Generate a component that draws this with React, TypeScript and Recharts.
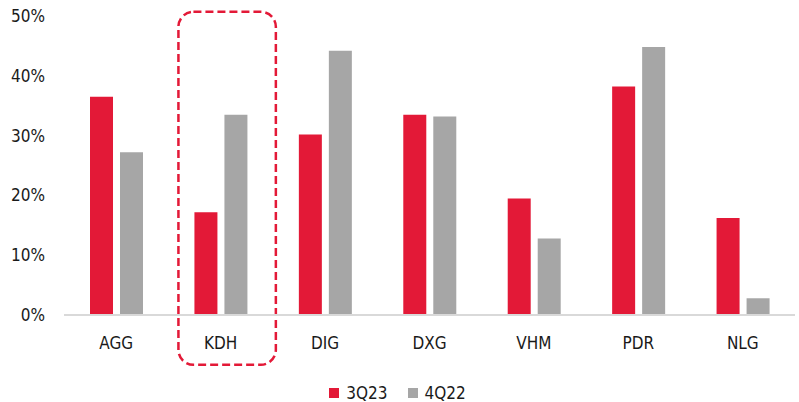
import { Bar, BarChart, Legend, ReferenceArea, XAxis, YAxis } from "recharts";

const categories = ["AGG", "KDH", "DIG", "DXG", "VHM", "PDR", "NLG"];
const q3_23 = [0.365, 0.172, 0.302, 0.335, 0.195, 0.382, 0.162];
const q4_22 = [0.272, 0.335, 0.442, 0.332, 0.128, 0.448, 0.028];
const yTicks = [0, 0.1, 0.2, 0.3, 0.4, 0.5];
const highlighted = "KDH";

const RED = "#E31937";
const GRAY = "#A6A6A6";
const FONT = "'Liberation Sans Narrow', 'DejaVu Sans Condensed', 'Roboto', sans-serif";

const data = categories.map((name, i) => ({ name, q3: q3_23[i], q4: q4_22[i] }));

function LegendContent() {
  const items = [
    { label: "3Q23", color: RED },
    { label: "4Q22", color: GRAY },
  ];
  return (
    <div style={{ display: "flex", justifyContent: "center", gap: 20, height: 22, alignItems: "center", fontFamily: FONT, fontSize: 17, color: "#1a1a1a" }}>
      {items.map((it) => (
        <div key={it.label} style={{ display: "flex", alignItems: "center", gap: 7 }}>
          <span style={{ width: 10, height: 10, background: it.color, display: "inline-block" }} />
          <span>{it.label}</span>
        </div>
      ))}
    </div>
  );
}

function HighlightBox(props: any) {
  const { x, y, width, height } = props;
  return (
    <rect
      x={x + 10}
      y={y}
      width={width - 7}
      height={height + 2}
      rx={15}
      ry={15}
      fill="none"
      stroke={RED}
      strokeWidth={2.5}
      strokeDasharray="8 4"
    />
  );
}

export default function App() {
  return (
    <div style={{ position: "absolute", left: 0, top: 0, background: "#fff" }}>
      <BarChart
        width={799}
        height={402}
        data={data}
        margin={{ top: 16, right: 4, left: 0, bottom: 2 }}
        barSize={23}
        barGap={7}
      >
        <XAxis
          dataKey="name"
          tickLine={false}
          axisLine={{ stroke: "#D9D9D9", strokeWidth: 2 }}
          tick={{ fontSize: 17, fill: "#1a1a1a", fontFamily: FONT }}
          tickMargin={16}
          height={63}
        />
        <YAxis
          domain={[0, 0.5]}
          ticks={yTicks}
          axisLine={false}
          tickLine={false}
          tickMargin={13}
          width={64}
          tick={{ fontSize: 17, fill: "#1a1a1a", fontFamily: FONT }}
          tickFormatter={(v) => `${Math.round(v * 100)}%`}
        />
        <ReferenceArea
          x1={highlighted}
          x2={highlighted}
          y1={-0.08}
          y2={0.507}
          ifOverflow="visible"
          shape={<HighlightBox />}
        />
        <Bar dataKey="q3" name="3Q23" fill={RED} isAnimationActive={false} />
        <Bar dataKey="q4" name="4Q22" fill={GRAY} isAnimationActive={false} />
        <Legend verticalAlign="bottom" content={<LegendContent />} wrapperStyle={{ bottom: -2 }} />
      </BarChart>
    </div>
  );
}
